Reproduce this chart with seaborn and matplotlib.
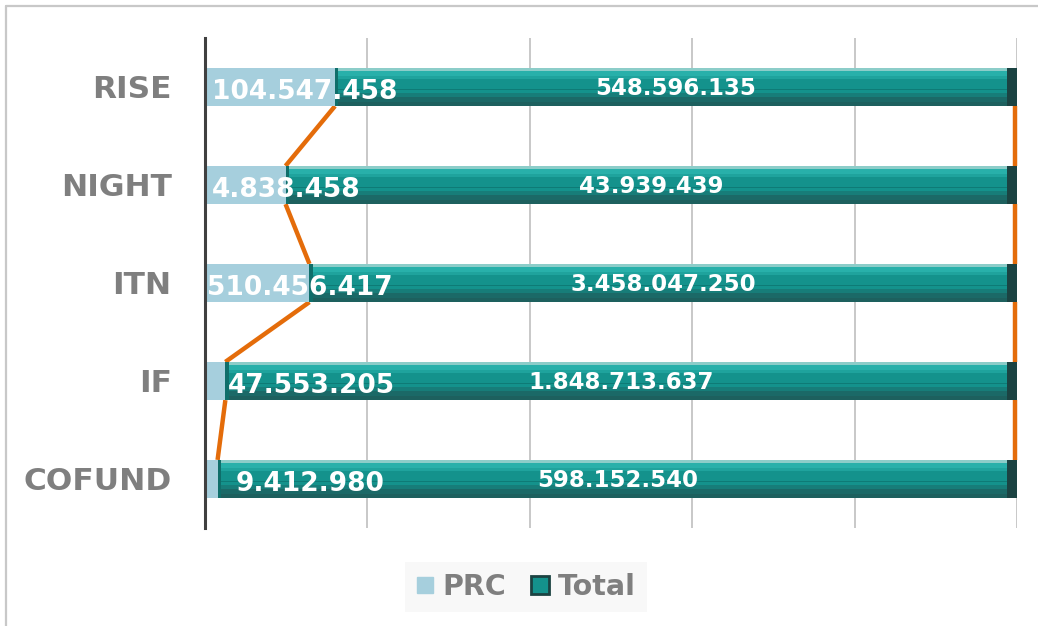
import numpy as np
import pandas as pd
import matplotlib
matplotlib.use('Agg')
import matplotlib.pyplot as plt
import seaborn as sns
from matplotlib.lines import Line2D

categories = ['RISE', 'NIGHT', 'ITN', 'IF', 'COFUND']
prc = [104547458, 4838458, 510456417, 47553205, 9412980]
total = [548596135, 43939439, 3458047250, 1848713637, 598152540]

# where the PRC labels start, as a share of the bar (as placed in the original)
prc_label_x = [0.009, 0.009, 0.002, 0.028, 0.038]


def fmt(v):
    return f'{v:,}'.replace(',', '.')


df = pd.DataFrame({'cat': categories, 'prc': prc, 'total': total})
df['sum'] = df['prc'] + df['total']
df['prc_share'] = df['prc'] / df['sum']
df['total_share'] = df['total'] / df['sum']

sns.set_style('white')
plt.rcParams['font.family'] = ['DejaVu Sans']

light_blue = '#a6cfdd'
teal = '#14928c'
teal_hi = '#28b0aa'
teal_dark = '#1d605e'
teal_cap = '#1b4342'
orange = '#e46c0a'
gray_txt = '#7f7f7f'

fig = plt.figure(figsize=(10.38, 6.26), dpi=100)
ax = fig.add_axes([205 / 1038, 1 - 528 / 626, 812 / 1038, 490 / 626])

h = 0.39
sns.barplot(data=df, x='prc_share', y='cat', color=light_blue, width=h,
            saturation=1, ax=ax, zorder=2, linewidth=0, edgecolor='none')

ys = np.arange(len(categories))
left = df['prc_share'].values
wid = df['total_share'].values
# main total segment plus a simple bevel look
layers = [
    (0.0, 1.0, teal),
    (-0.46, 0.08, '#8ccdc9'),
    (-0.35, 0.16, teal_hi),
    (-0.24, 0.08, '#1fa39d'),
    (0.06, 0.04, '#0e7b76'),
    (0.22, 0.10, '#177d79'),
    (0.33, 0.14, '#1b6967'),
    (0.45, 0.10, teal_dark),
]
for off, hh, col in layers:
    ax.barh(ys + off * h, wid, left=left, height=hh * h, color=col,
            linewidth=0, zorder=3)
ax.barh(ys, 0.012, left=1 - 0.012, height=h, color=teal_cap, linewidth=0, zorder=5)
ax.barh(ys, 0.004, left=left, height=h, color='#0f6e6a', linewidth=0, zorder=5)

# series lines
for i in range(len(categories) - 1):
    ax.plot([left[i], left[i + 1]], [i + h / 2, i + 1 - h / 2], color=orange,
            lw=3.2, zorder=1, solid_capstyle='butt')
    ax.plot([0.997, 0.997], [i + h / 2, i + 1 - h / 2], color=orange,
            lw=3.2, zorder=1, solid_capstyle='butt', clip_on=False)

# data labels
for i in range(len(categories)):
    ax.text(prc_label_x[i], i + 0.05, fmt(prc[i]), color='white', fontsize=19,
            fontweight='bold', ha='left', va='center', zorder=6)
    ax.text(left[i] + wid[i] / 2, i + 0.02, fmt(total[i]), color='white',
            fontsize=16.5, fontweight='bold', ha='center', va='center', zorder=6)

ax.set_xlim(0, 1)
ax.set_ylim(len(categories) - 0.5, -0.5)
ax.set_xticks(np.arange(0, 1.01, 0.2))
ax.set_xticklabels([])
ax.grid(axis='x', color='#c4c4c4', lw=1.3)
ax.set_axisbelow(True)
ax.tick_params(axis='x', length=0)
ax.tick_params(axis='y', length=0, pad=24)
ax.set_xlabel('')
ax.set_ylabel('')
for lab in ax.get_yticklabels():
    lab.set_fontsize(22.5)
    lab.set_fontweight('bold')
    lab.set_color(gray_txt)

for s in ['top', 'right', 'bottom']:
    ax.spines[s].set_visible(False)
ax.spines['left'].set_color('#404040')
ax.spines['left'].set_linewidth(2.2)

handles = [
    Line2D([], [], marker='s', ls='none', markersize=11, color=light_blue),
    Line2D([], [], marker='s', ls='none', markersize=13, color=teal,
           markeredgecolor=teal_cap, markeredgewidth=2),
]
leg = fig.legend(handles, ['PRC', 'Total'], loc='center', bbox_to_anchor=(526 / 1038, 1 - 587 / 626),
                 ncol=2, frameon=True, fancybox=False, handlelength=0.6, handletextpad=0.3,
                 columnspacing=0.9, borderpad=0.4, borderaxespad=0,
                 prop={'size': 20.5, 'weight': 'bold'})
leg.get_frame().set_facecolor('#f7f7f7')
leg.get_frame().set_edgecolor('none')
for t in leg.get_texts():
    t.set_color(gray_txt)

# outer chart border (top and left visible)
fig.add_artist(Line2D([6 / 1038, 6 / 1038], [0, 1 - 6 / 626], color='#c8c8c8', lw=1.6))
fig.add_artist(Line2D([6 / 1038, 1], [1 - 6 / 626, 1 - 6 / 626], color='#c8c8c8', lw=1.6))

fig.savefig('out.png', dpi=100)
